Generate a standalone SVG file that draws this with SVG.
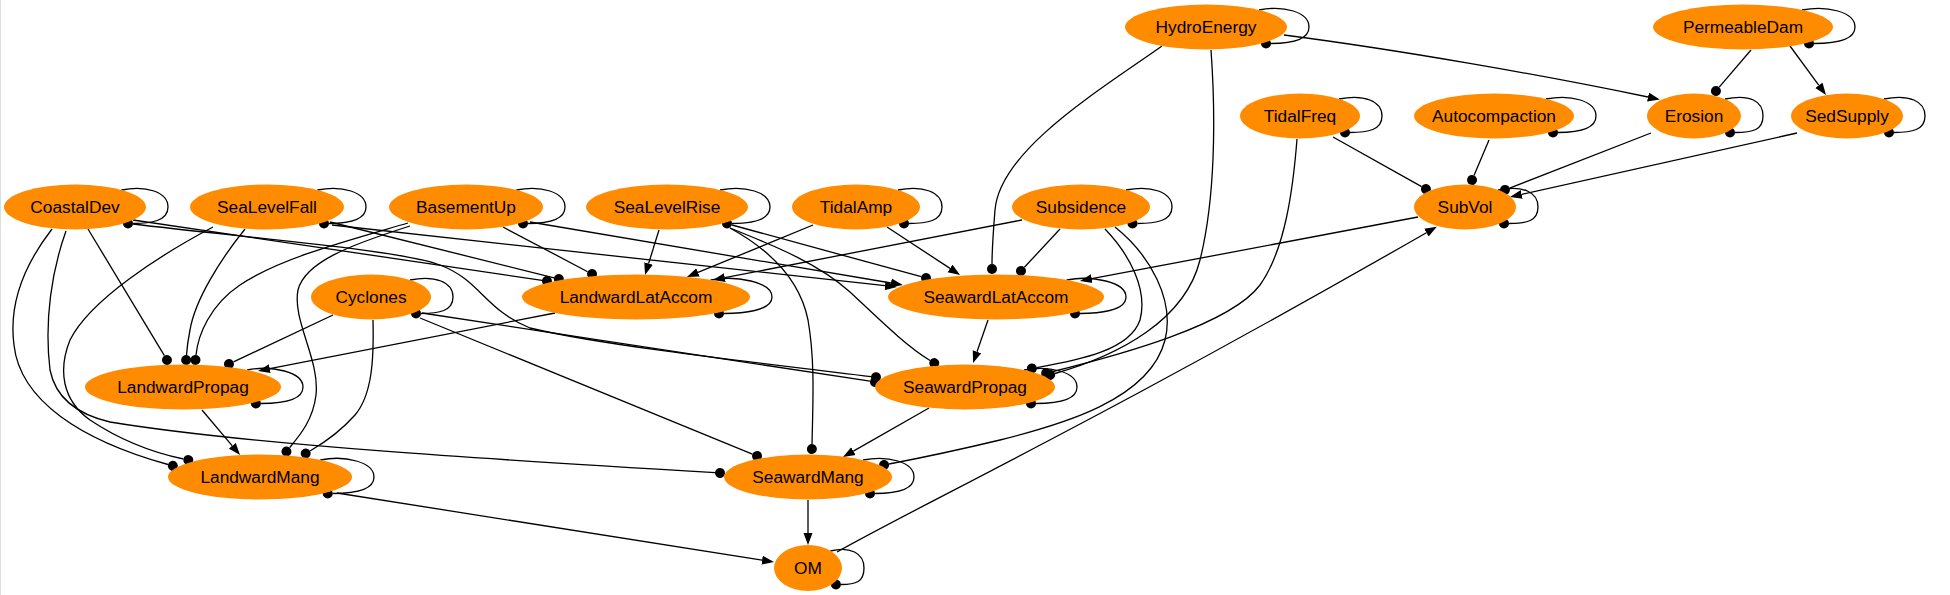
<svg xmlns="http://www.w3.org/2000/svg" width="1950" height="595" viewBox="0 0 1950 595">
<style>
.n ellipse{fill:#ff8c00;stroke:none}
.n text{font-family:"Liberation Sans",Arial,sans-serif;font-size:17.3px;fill:#000;text-anchor:middle}
#edges path{fill:none;stroke:#000;stroke-width:1.3}
.d{marker-end:url(#dot)}
.a{marker-end:url(#arr)}
</style>
<defs>
<marker id="dot" markerUnits="userSpaceOnUse" viewBox="0 0 12 12" markerWidth="12" markerHeight="12" refX="1" refY="6" orient="auto"><circle cx="6" cy="6" r="5" fill="#000"/></marker>
<marker id="arr" markerUnits="userSpaceOnUse" viewBox="0 0 14 10" markerWidth="14" markerHeight="10" refX="0" refY="5" orient="auto"><path d="M0,0.5 L12,5 L0,9.5 z" fill="#000"/></marker>
</defs>
<rect width="1950" height="595" fill="#fff"/>
<line x1="0.5" y1="0" x2="0.5" y2="595" stroke="#ddd"/>
<g id="edges">
<!-- self loops -->
<path class="d" d="M1259,10 C1284,5 1309,12 1309,27 C1309,41 1289,43.5 1271,43.5"/>
<path class="d" d="M1802,10 C1827,5 1855,12 1855,27 C1855,41 1832,43.5 1814,43.5"/>
<path class="d" d="M1339,99 C1364,94 1382,101 1382,116 C1382,130 1368,132.5 1350,132.5"/>
<path class="d" d="M1546,99 C1571,94 1596,101 1596,116 C1596,130 1576,132.5 1558,132.5"/>
<path class="d" d="M1725,99 C1750,94 1763,101 1763,116 C1763,130 1753,132.5 1735,132.5"/>
<path class="d" d="M1884,99 C1909,94 1925,101 1925,116 C1925,130 1912,132.5 1894,132.5"/>
<path class="d" d="M1498,190 C1523,185 1538,192 1538,207 C1538,221 1527,223.5 1509,223.5"/>
<path class="d" d="M121.5,190 C146,185 168,192 168,207 C168,221 151,223.5 133,223.5"/>
<path class="d" d="M317.4,190 C342,185 366,192 366,207 C366,221 347,223.5 329,223.5"/>
<path class="d" d="M516.4,190 C541,185 565,192 565,207 C565,221 546,223.5 528,223.5"/>
<path class="d" d="M720,190 C745,185 770,192 770,207 C770,221 750,223.5 732,223.5"/>
<path class="d" d="M898,190 C923,185 942,192 942,207 C942,221 927,223.5 909,223.5"/>
<path class="d" d="M1126,190 C1151,185 1172,192 1172,207 C1172,221 1155.5,223.5 1137.5,223.5"/>
<path class="d" d="M410,280 C435,275 453,282 453,297 C453,311 439,313.5 421,313.5"/>
<path class="d" d="M710.7,280 C736,275 772,282 772,297 C772,311 742,313.5 724,313.5"/>
<path class="d" d="M1066.7,280 C1092,275 1126,282 1126,297 C1126,311 1098,313.5 1080,313.5"/>
<path class="d" d="M247.2,370 C272,365 303,372 303,387 C303,401 279,403.5 260.9,403.5"/>
<path class="d" d="M1024,370 C1049,365 1077,372 1077,387 C1077,401 1054,403.5 1036,403.5"/>
<path class="d" d="M320.3,460 C345,455 374,462 374,477 C374,491 351,493.5 332.7,493.5"/>
<path class="d" d="M863,460 C888,455 914,462 914,477 C914,491 893,493.5 875,493.5"/>
<path class="d" d="M830.3,551 C850,546 864,553 864,568 C864,582 856,584.5 840.9,584.5"/>
<!-- CoastalDev -->
<path class="d" d="M88,229 L164.4,355.7"/>
<path class="d" d="M52,229 C28,260 8,300 14,345 C20,400 80,440 168,464.5"/>
<path class="d" d="M66,231 C52,270 44,320 50,370 C56,400 80,415 110,422 C250,445 500,460 715,472.6"/>
<path class="d" d="M133,220 L542,280.3"/>
<path class="d" d="M133,224 C250,238 400,250 440,265 C480,280 485,310 530,328 C600,345 750,362 871,376.6"/>
<!-- SeaLevelFall -->
<path class="d" d="M245,229 C220,260 195,300 190,330 C188,340 187,348 186.5,355"/>
<path class="d" d="M213,227 C160,255 90,300 70,340 C58,370 62,400 90,420 C120,440 150,452 183.4,459"/>
<path class="d" d="M330,222 L554,277.8"/>
<path class="a" d="M332,225 L885,285.7"/>
<!-- BasementUp -->
<path class="d" d="M408,223 C350,240 280,258 240,285 C210,305 198,335 196,355"/>
<path class="d" d="M410,226 C350,245 305,262 298,290 C292,320 320,360 316,395 C313,420 300,435 289.6,447.7"/>
<path class="d" d="M503,227 L587.6,271.7"/>
<path class="a" d="M530,222 L891,283"/>
<!-- SeaLevelRise -->
<path class="a" d="M659,230 L648.6,263.5"/>
<path class="d" d="M732,225 L921.2,276.7"/>
<path class="d" d="M730,228 C780,248 820,265 850,292 C880,320 905,345 930,360.5"/>
<path class="d" d="M730,228 C770,250 800,280 808,320 C815,360 813,400 812,444"/>
<!-- TidalAmp -->
<path class="a" d="M813,225 L698,272.4"/>
<path class="a" d="M887,227 L950,268.4"/>
<!-- Subsidence -->
<path class="a" d="M1022,220 L724.8,277.7"/>
<path class="d" d="M1060,229 L1024.4,267.3"/>
<path class="d" d="M1105,229 C1130,255 1148,290 1140,320 C1130,350 1080,360 1036.8,367.6"/>
<path class="d" d="M1115,227 C1150,255 1175,300 1165,340 C1150,400 1060,425 1000,440 C950,452 910,460 889,464"/>
<!-- HydroEnergy -->
<path class="a" d="M1284,35 C1400,50 1542,75 1648,97"/>
<path class="d" d="M1162,46 C1100,90 1000,150 995,210 C993,235 992,250 992,264"/>
<path class="d" d="M1211,50 C1216,120 1215,200 1200,260 C1185,320 1120,355 1055,373.5"/>
<!-- PermeableDam -->
<path class="d" d="M1751,50 L1719.2,87.2"/>
<path class="a" d="M1790,46 L1818.9,85.3"/>
<!-- TidalFreq -->
<path class="d" d="M1333,137 L1421.6,186.6"/>
<path class="d" d="M1297,139 C1293,190 1285,250 1260,285 C1230,325 1120,355 1051,372"/>
<!-- Autocompaction, Erosion, SedSupply -->
<path class="d" d="M1489,140 L1474,175.4"/>
<path class="d" d="M1651,133 L1509.6,188.1"/>
<path class="a" d="M1797,133 L1521.7,194.4"/>
<!-- SubVol, OM -->
<path class="a" d="M1418,217 L1091.8,278.7"/>
<path class="a" d="M837,552 C920,505 1100,420 1426.4,232.7"/>
<!-- Cyclones -->
<path class="d" d="M333,315 L233.5,361.9"/>
<path class="d" d="M373,320 C374,360 372,395 355,415 C340,432 322,444 310,451"/>
<path class="d" d="M422,313 L870,381.2"/>
<path class="d" d="M420,318 L752.4,454.1"/>
<!-- lower -->
<path class="a" d="M555,313 L269.8,368.7"/>
<path class="a" d="M988,320 L977,351.7"/>
<path class="a" d="M202,410 L232.3,445.8"/>
<path class="a" d="M929,408 L853.4,451.1"/>
<path class="a" d="M337,493 L762.1,560.1"/>
<path class="a" d="M808,500 L808,533"/>
</g>
<g id="HydroEnergy" class="n"><ellipse cx="1206" cy="27" rx="81" ry="22.5"/><text x="1206" y="33">HydroEnergy</text></g>
<g id="PermeableDam" class="n"><ellipse cx="1743" cy="27" rx="90" ry="22.5"/><text x="1743" y="33">PermeableDam</text></g>
<g id="TidalFreq" class="n"><ellipse cx="1300" cy="116" rx="60" ry="22.5"/><text x="1300" y="122">TidalFreq</text></g>
<g id="Autocompaction" class="n"><ellipse cx="1494" cy="116" rx="80" ry="22.5"/><text x="1494" y="122">Autocompaction</text></g>
<g id="Erosion" class="n"><ellipse cx="1694" cy="116" rx="47" ry="22.5"/><text x="1694" y="122">Erosion</text></g>
<g id="SedSupply" class="n"><ellipse cx="1847" cy="116" rx="56" ry="22.5"/><text x="1847" y="122">SedSupply</text></g>
<g id="SubVol" class="n"><ellipse cx="1465" cy="207" rx="51" ry="22.5"/><text x="1465" y="213">SubVol</text></g>
<g id="CoastalDev" class="n"><ellipse cx="75" cy="207" rx="71" ry="22.5"/><text x="75" y="213">CoastalDev</text></g>
<g id="SeaLevelFall" class="n"><ellipse cx="267" cy="207" rx="77" ry="22.5"/><text x="267" y="213">SeaLevelFall</text></g>
<g id="BasementUp" class="n"><ellipse cx="466" cy="207" rx="77" ry="22.5"/><text x="466" y="213">BasementUp</text></g>
<g id="SeaLevelRise" class="n"><ellipse cx="667" cy="207" rx="81" ry="22.5"/><text x="667" y="213">SeaLevelRise</text></g>
<g id="TidalAmp" class="n"><ellipse cx="856" cy="207" rx="64" ry="22.5"/><text x="856" y="213">TidalAmp</text></g>
<g id="Subsidence" class="n"><ellipse cx="1081" cy="207" rx="69" ry="22.5"/><text x="1081" y="213">Subsidence</text></g>
<g id="Cyclones" class="n"><ellipse cx="371" cy="297" rx="60" ry="22.5"/><text x="371" y="303">Cyclones</text></g>
<g id="LandwardLatAccom" class="n"><ellipse cx="636" cy="297" rx="114" ry="22.5"/><text x="636" y="303">LandwardLatAccom</text></g>
<g id="SeawardLatAccom" class="n"><ellipse cx="996" cy="297" rx="108" ry="22.5"/><text x="996" y="303">SeawardLatAccom</text></g>
<g id="LandwardPropag" class="n"><ellipse cx="183" cy="387" rx="98" ry="22.5"/><text x="183" y="393">LandwardPropag</text></g>
<g id="SeawardPropag" class="n"><ellipse cx="965" cy="387" rx="90" ry="22.5"/><text x="965" y="393">SeawardPropag</text></g>
<g id="LandwardMang" class="n"><ellipse cx="260" cy="477" rx="92" ry="22.5"/><text x="260" y="483">LandwardMang</text></g>
<g id="SeawardMang" class="n"><ellipse cx="808" cy="477" rx="84" ry="22.5"/><text x="808" y="483">SeawardMang</text></g>
<g id="OM" class="n"><ellipse cx="808" cy="568" rx="34" ry="23"/><text x="808" y="574">OM</text></g>
</svg>
